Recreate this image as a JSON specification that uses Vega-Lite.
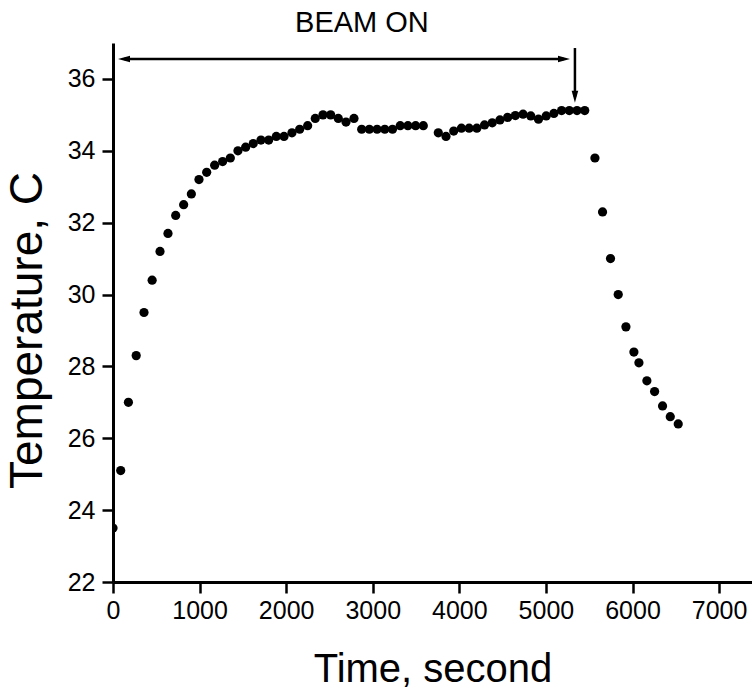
{
  "$schema": "https://vega.github.io/schema/vega-lite/v6.json",
  "width": 639,
  "height": 539,
  "autosize": {"type": "none"},
  "padding": {"left": 113, "top": 43, "right": 0, "bottom": 107},
  "background": "white",
  "config": {
    "view": {"stroke": null},
    "axis": {
      "domainColor": "#000", "domainWidth": 3,
      "tickColor": "#000", "tickWidth": 2.5, "tickSize": 11,
      "labelFont": "Liberation Sans", "labelFontSize": 25, "labelColor": "#000",
      "titleFont": "Liberation Sans", "titleFontSize": 40, "titleFontWeight": "normal", "titleColor": "#000",
      "grid": false
    }
  },
  "datasets": {
    "temps": [
      {"time": 0, "temperature": 23.5},
      {"time": 89, "temperature": 25.1},
      {"time": 178, "temperature": 27.0},
      {"time": 268, "temperature": 28.3},
      {"time": 358, "temperature": 29.5},
      {"time": 452, "temperature": 30.4},
      {"time": 543, "temperature": 31.2},
      {"time": 635, "temperature": 31.7},
      {"time": 724, "temperature": 32.2},
      {"time": 816, "temperature": 32.5},
      {"time": 905, "temperature": 32.8},
      {"time": 993, "temperature": 33.2},
      {"time": 1082, "temperature": 33.4},
      {"time": 1174, "temperature": 33.6},
      {"time": 1266, "temperature": 33.7},
      {"time": 1355, "temperature": 33.8},
      {"time": 1443, "temperature": 34.0},
      {"time": 1532, "temperature": 34.1},
      {"time": 1620, "temperature": 34.2},
      {"time": 1709, "temperature": 34.3},
      {"time": 1798, "temperature": 34.3},
      {"time": 1886, "temperature": 34.4},
      {"time": 1975, "temperature": 34.4},
      {"time": 2067, "temperature": 34.5},
      {"time": 2156, "temperature": 34.6},
      {"time": 2248, "temperature": 34.7},
      {"time": 2336, "temperature": 34.9},
      {"time": 2425, "temperature": 35.0},
      {"time": 2514, "temperature": 35.0},
      {"time": 2602, "temperature": 34.9},
      {"time": 2691, "temperature": 34.8},
      {"time": 2783, "temperature": 34.9},
      {"time": 2872, "temperature": 34.6},
      {"time": 2961, "temperature": 34.6},
      {"time": 3050, "temperature": 34.6},
      {"time": 3139, "temperature": 34.6},
      {"time": 3228, "temperature": 34.6},
      {"time": 3317, "temperature": 34.7},
      {"time": 3406, "temperature": 34.7},
      {"time": 3495, "temperature": 34.7},
      {"time": 3584, "temperature": 34.7},
      {"time": 3757, "temperature": 34.5},
      {"time": 3846, "temperature": 34.4},
      {"time": 3935, "temperature": 34.55},
      {"time": 4024, "temperature": 34.63},
      {"time": 4113, "temperature": 34.63},
      {"time": 4202, "temperature": 34.63},
      {"time": 4291, "temperature": 34.72},
      {"time": 4380, "temperature": 34.78},
      {"time": 4469, "temperature": 34.86},
      {"time": 4558, "temperature": 34.93},
      {"time": 4647, "temperature": 34.98},
      {"time": 4736, "temperature": 35.02},
      {"time": 4825, "temperature": 34.97},
      {"time": 4914, "temperature": 34.88},
      {"time": 5003, "temperature": 34.97},
      {"time": 5092, "temperature": 35.04},
      {"time": 5181, "temperature": 35.12},
      {"time": 5270, "temperature": 35.12},
      {"time": 5359, "temperature": 35.12},
      {"time": 5448, "temperature": 35.12},
      {"time": 5566, "temperature": 33.8},
      {"time": 5654, "temperature": 32.3},
      {"time": 5746, "temperature": 31.0},
      {"time": 5835, "temperature": 30.0},
      {"time": 5924, "temperature": 29.1},
      {"time": 6016, "temperature": 28.4},
      {"time": 6074, "temperature": 28.1},
      {"time": 6166, "temperature": 27.6},
      {"time": 6255, "temperature": 27.3},
      {"time": 6347, "temperature": 26.9},
      {"time": 6436, "temperature": 26.6},
      {"time": 6528, "temperature": 26.4}
    ]
  },
  "layer": [
    {
      "data": {"name": "temps"},
      "mark": {"type": "circle", "size": 85, "color": "#000", "opacity": 1, "clip": true},
      "encoding": {
        "x": {
          "field": "time", "type": "quantitative",
          "scale": {"domain": [0, 7380], "nice": false, "zero": false},
          "axis": {"title": "Time, second", "format": "d", "values": [0, 1000, 2000, 3000, 4000, 5000, 6000, 7000], "labelPadding": 5, "labelFlush": false, "titleX": 319.5, "titleY": 67}
        },
        "y": {
          "field": "temperature", "type": "quantitative",
          "scale": {"domain": [22, 37], "nice": false, "zero": false},
          "axis": {"title": "Temperature, C", "format": "d", "values": [22, 24, 26, 28, 30, 32, 34, 36], "labelPadding": 7, "labelFlush": false, "titleFontSize": 46, "titleX": -61.3, "titleY": 287}
        }
      }
    },
    {
      "data": {"values": [{"time": 128, "time_end": 5208, "temperature": 36.555}]},
      "mark": {"type": "rule", "strokeWidth": 2.5, "color": "#000"},
      "encoding": {
        "x": {"field": "time", "type": "quantitative", "scale": {"domain": [0, 7380], "nice": false, "zero": false}},
        "x2": {"field": "time_end"},
        "y": {"field": "temperature", "type": "quantitative", "scale": {"domain": [22, 37], "nice": false, "zero": false}}
      }
    },
    {
      "data": {"values": [{"time": 5335, "temperature": 36.86, "temperature_end": 35.5}]},
      "mark": {"type": "rule", "strokeWidth": 2.5, "color": "#000"},
      "encoding": {
        "x": {"field": "time", "type": "quantitative", "scale": {"domain": [0, 7380], "nice": false, "zero": false}},
        "y": {"field": "temperature", "type": "quantitative", "scale": {"domain": [22, 37], "nice": false, "zero": false}},
        "y2": {"field": "temperature_end"}
      }
    },
    {
      "data": {"values": [{"time": 58, "temperature": 36.555}]},
      "mark": {"type": "point", "shape": "M2,-0.55L0,0L2,0.55Z", "size": 144, "filled": true, "opacity": 1, "color": "#000", "strokeWidth": 0},
      "encoding": {
        "x": {"field": "time", "type": "quantitative", "scale": {"domain": [0, 7380], "nice": false, "zero": false}},
        "y": {"field": "temperature", "type": "quantitative", "scale": {"domain": [22, 37], "nice": false, "zero": false}}
      }
    },
    {
      "data": {"values": [{"time": 5278, "temperature": 36.555}]},
      "mark": {"type": "point", "shape": "M-2,-0.55L0,0L-2,0.55Z", "size": 144, "filled": true, "opacity": 1, "color": "#000", "strokeWidth": 0},
      "encoding": {
        "x": {"field": "time", "type": "quantitative", "scale": {"domain": [0, 7380], "nice": false, "zero": false}},
        "y": {"field": "temperature", "type": "quantitative", "scale": {"domain": [22, 37], "nice": false, "zero": false}}
      }
    },
    {
      "data": {"values": [{"time": 5335, "temperature": 35.34}]},
      "mark": {"type": "point", "shape": "M-0.55,-2L0,0L0.55,-2Z", "size": 144, "filled": true, "opacity": 1, "color": "#000", "strokeWidth": 0},
      "encoding": {
        "x": {"field": "time", "type": "quantitative", "scale": {"domain": [0, 7380], "nice": false, "zero": false}},
        "y": {"field": "temperature", "type": "quantitative", "scale": {"domain": [22, 37], "nice": false, "zero": false}}
      }
    },
    {
      "data": {"values": [{"time": 2875, "temperature": 37.56, "label": "BEAM ON"}]},
      "mark": {"type": "text", "font": "Liberation Sans", "fontSize": 29, "color": "#000", "align": "center", "baseline": "middle"},
      "encoding": {
        "x": {"field": "time", "type": "quantitative", "scale": {"domain": [0, 7380], "nice": false, "zero": false}},
        "y": {"field": "temperature", "type": "quantitative", "scale": {"domain": [22, 37], "nice": false, "zero": false}},
        "text": {"field": "label"}
      }
    }
  ]
}
